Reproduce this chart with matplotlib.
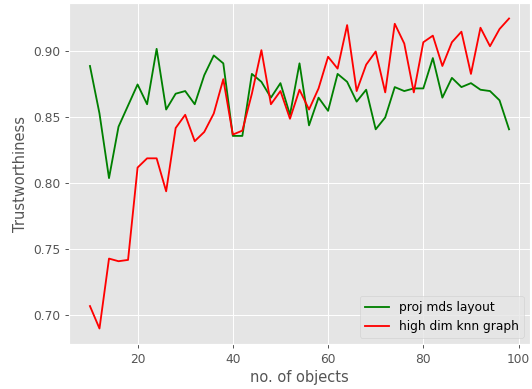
import numpy as np
import matplotlib
matplotlib.use("Agg")
import matplotlib.pyplot as plt

plt.style.use("ggplot")

# number of objects in each run
n_objects = list(range(10, 100, 2))

# trustworthiness of the projected MDS layout
proj_mds = [0.889, 0.853, 0.804, 0.843, 0.859, 0.875, 0.860, 0.902, 0.856, 0.868,
            0.870, 0.860, 0.882, 0.897, 0.891, 0.836, 0.836, 0.883, 0.877, 0.865,
            0.876, 0.852, 0.891, 0.844, 0.865, 0.855, 0.883, 0.877, 0.862, 0.871,
            0.841, 0.850, 0.873, 0.870, 0.872, 0.872, 0.895, 0.865, 0.880, 0.873,
            0.876, 0.871, 0.870, 0.863, 0.841]

# trustworthiness of the high dimensional knn graph
knn_graph = [0.707, 0.690, 0.743, 0.741, 0.742, 0.812, 0.819, 0.819, 0.794, 0.842,
             0.852, 0.832, 0.839, 0.853, 0.879, 0.837, 0.840, 0.868, 0.901, 0.860,
             0.870, 0.849, 0.871, 0.856, 0.872, 0.896, 0.887, 0.920, 0.870, 0.890,
             0.900, 0.869, 0.921, 0.906, 0.869, 0.907, 0.912, 0.889, 0.907, 0.915,
             0.883, 0.918, 0.904, 0.917, 0.925]

dpi = 88
fig = plt.figure(figsize=(532 / dpi, 389 / dpi), dpi=dpi)
ax = fig.add_axes([69 / 532, 45 / 389, 461 / 532, 341 / 389])

ax.plot(n_objects, proj_mds, color="green", label="proj mds layout")
ax.plot(n_objects, knn_graph, color="red", label="high dim knn graph")

ax.set_xlabel("no. of objects")
ax.set_ylabel("Trustworthiness")
ax.legend(loc="lower right")

fig.savefig("out.png", dpi=dpi)
